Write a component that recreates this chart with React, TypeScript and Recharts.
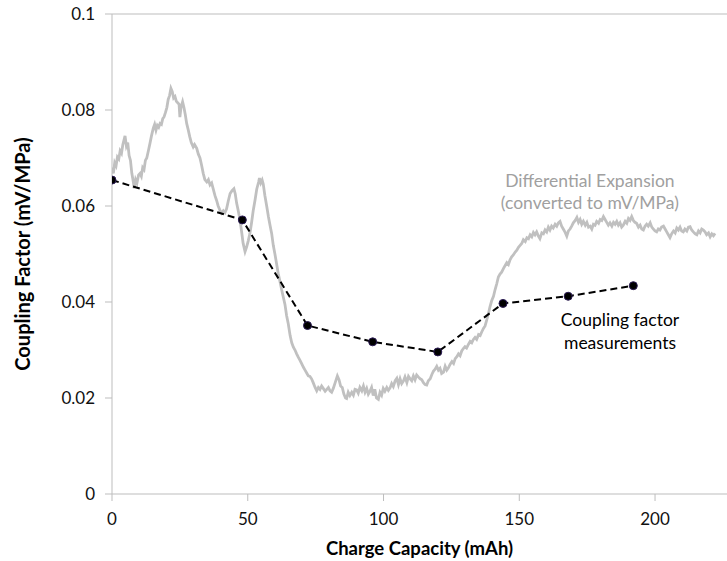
import React from 'react';
import { ComposedChart, Line, XAxis, YAxis, ReferenceLine, ReferenceDot } from 'recharts';

// Coupling factor measurements
const measCapacity = [0, 48, 72, 96, 120, 144, 168, 192];
const measCoupling = [0.0654, 0.0571, 0.0351, 0.0317, 0.0296, 0.0397, 0.0412, 0.0434];

// Differential expansion trace (converted to mV/MPa): [capacity, value]
const diffTrace: [number, number][] = [
  [0, 0.068], [0.5, 0.0668], [1, 0.069], [1.5, 0.0684], [2, 0.0702], [2.5, 0.0698], [3, 0.0715], [3.5, 0.071],
  [4, 0.0728], [4.8, 0.0746], [5.3, 0.0725], [5.8, 0.0732], [6.3, 0.0705], [6.8, 0.0695], [7.3, 0.0668], [7.8, 0.0652],
  [8.2, 0.0637], [8.7, 0.0655], [9.2, 0.0648], [9.8, 0.0665], [10.3, 0.0668], [10.8, 0.0662], [11.3, 0.068], [11.8, 0.0676],
  [12.3, 0.0695], [12.8, 0.07], [13.4, 0.0715], [14, 0.0731], [14.5, 0.0745], [15.2, 0.0762], [15.7, 0.077], [16.2, 0.0758],
  [16.7, 0.0768], [17.2, 0.0764], [17.7, 0.0772], [18.2, 0.077], [18.7, 0.0782], [19.2, 0.0786], [19.7, 0.0795], [20.2, 0.0805],
  [20.7, 0.0822], [21.2, 0.083], [21.7, 0.0845], [22.2, 0.0838], [22.7, 0.0825], [23.2, 0.0828], [23.7, 0.0818], [24.2, 0.0815],
  [24.7, 0.0812], [25, 0.0785], [25.4, 0.0805], [26, 0.0817], [26.5, 0.0805], [27, 0.079], [27.5, 0.0772], [28.1, 0.0758],
  [28.6, 0.0745], [29.2, 0.0732], [29.9, 0.0723], [30.4, 0.0728], [31.2, 0.072], [31.8, 0.0708], [32.4, 0.07], [33, 0.0685],
  [33.6, 0.0668], [34.2, 0.0655], [34.9, 0.065], [35.5, 0.0655], [36.1, 0.0644], [36.7, 0.0648], [37.3, 0.0635], [37.9, 0.0622],
  [38.5, 0.0612], [39.1, 0.06], [39.7, 0.0592], [40.4, 0.0585], [41, 0.059], [41.6, 0.0586], [42.2, 0.0594], [42.8, 0.061],
  [43.5, 0.0626], [44.2, 0.0632], [44.9, 0.0636], [45.4, 0.0625], [45.9, 0.0606], [46.5, 0.059], [47.1, 0.0572], [47.7, 0.0548],
  [48.3, 0.0522], [49, 0.0505], [49.6, 0.0515], [50.2, 0.0528], [50.8, 0.0543], [51.4, 0.0565], [52, 0.059], [52.7, 0.0613],
  [53.3, 0.0635], [54, 0.065], [54.3, 0.0658], [54.8, 0.0648], [55.3, 0.0654], [55.7, 0.0646], [56.3, 0.0622], [57, 0.0599],
  [57.6, 0.0578], [58.2, 0.056], [58.8, 0.0543], [59.4, 0.0518], [60, 0.05], [60.6, 0.048], [61.2, 0.046], [61.9, 0.0442],
  [62.5, 0.0425], [63.1, 0.041], [63.7, 0.0395], [64.3, 0.0372], [64.9, 0.0355], [65.6, 0.033], [66.2, 0.0315], [66.8, 0.0306],
  [67.4, 0.03], [68, 0.0292], [68.6, 0.0285], [69.2, 0.0279], [69.8, 0.0272], [70.5, 0.0264], [71.1, 0.0258], [71.7, 0.0252],
  [72.3, 0.0246], [72.9, 0.0245], [73.5, 0.024], [74.1, 0.0232], [74.8, 0.0222], [75.4, 0.0215], [76, 0.0222], [76.6, 0.0218],
  [77.2, 0.0225], [77.8, 0.022], [78.5, 0.0214], [79.1, 0.0218], [79.7, 0.0222], [80.3, 0.0215], [80.9, 0.0212], [81.5, 0.022],
  [82.2, 0.0232], [83, 0.0246], [83.6, 0.0238], [84.2, 0.0225], [84.8, 0.0222], [85.4, 0.0208], [86, 0.02], [86.4, 0.0199],
  [87, 0.0212], [87.6, 0.0205], [88.3, 0.0212], [88.9, 0.0206], [89.5, 0.0218], [90.1, 0.0217], [90.7, 0.021], [91.3, 0.0222],
  [92, 0.0215], [92.6, 0.0225], [93.2, 0.0212], [93.8, 0.022], [94.4, 0.0208], [95, 0.0214], [95.6, 0.0222], [96.2, 0.0205],
  [96.8, 0.0218], [97.4, 0.02], [98.1, 0.0197], [98.7, 0.0212], [99.3, 0.0206], [99.9, 0.022], [100.5, 0.0214], [101.2, 0.0222],
  [101.8, 0.0216], [102.4, 0.0221], [103, 0.023], [103.6, 0.0224], [104.3, 0.0236], [104.9, 0.0241], [105.5, 0.0228], [106.1, 0.024],
  [106.7, 0.023], [107.3, 0.0235], [107.9, 0.0244], [108.6, 0.0232], [109.2, 0.0245], [109.8, 0.024], [110.4, 0.0236], [111, 0.0246],
  [111.6, 0.0238], [112.2, 0.0248], [112.8, 0.0244], [113.5, 0.024], [114.1, 0.0238], [114.7, 0.0232], [115.3, 0.0228], [115.9, 0.0227],
  [116.5, 0.0236], [117.2, 0.024], [117.8, 0.0249], [118.4, 0.0256], [119, 0.026], [119.6, 0.0266], [120.2, 0.0258], [120.8, 0.0262],
  [121.4, 0.0251], [122.1, 0.0254], [122.7, 0.0266], [123.3, 0.0258], [123.9, 0.0263], [124.5, 0.027], [125.2, 0.0276], [125.8, 0.0272],
  [126.4, 0.0282], [127, 0.0286], [127.6, 0.0292], [128.2, 0.0288], [128.8, 0.0298], [129.4, 0.0303], [130, 0.0307], [130.6, 0.0304],
  [131.3, 0.0312], [131.9, 0.0318], [132.5, 0.0315], [133.1, 0.0322], [133.7, 0.0326], [134.3, 0.0322], [135, 0.0332], [135.6, 0.033],
  [136.2, 0.0338], [136.8, 0.0345], [137.4, 0.035], [138, 0.0362], [138.6, 0.0375], [139.2, 0.039], [139.8, 0.0402], [140.5, 0.0412],
  [141.1, 0.0426], [141.7, 0.0438], [142.3, 0.0452], [142.9, 0.0458], [143.5, 0.0462], [144.2, 0.047], [144.8, 0.0476], [145.4, 0.0482],
  [146, 0.0478], [146.6, 0.0488], [147.2, 0.0494], [147.8, 0.0498], [148.5, 0.0504], [149.1, 0.0508], [149.7, 0.0514], [150.3, 0.0518],
  [150.9, 0.0522], [151.5, 0.053], [152.2, 0.0526], [152.8, 0.0534], [153.4, 0.0532], [154, 0.054], [154.6, 0.0536], [155.2, 0.0545],
  [155.8, 0.054], [156.4, 0.0546], [157, 0.0538], [157.6, 0.0532], [158.3, 0.0544], [158.9, 0.0542], [159.5, 0.055], [160.1, 0.0546],
  [160.7, 0.0556], [161.3, 0.055], [161.9, 0.0558], [162.5, 0.0554], [163.2, 0.0562], [163.8, 0.0558], [164.4, 0.0565], [165, 0.0568],
  [165.6, 0.0558], [166.2, 0.0552], [166.9, 0.0545], [167.5, 0.0537], [168.1, 0.0548], [168.7, 0.0552], [169.3, 0.0558], [169.9, 0.0565],
  [170.6, 0.057], [171.2, 0.0576], [171.8, 0.0566], [172.4, 0.0572], [173, 0.0562], [173.6, 0.0568], [174.3, 0.056], [174.9, 0.0566],
  [175.5, 0.0556], [176.1, 0.0558], [176.7, 0.0552], [177.3, 0.0562], [177.9, 0.056], [178.5, 0.0568], [179.2, 0.0564], [179.8, 0.0572],
  [180.4, 0.057], [181, 0.0578], [181.6, 0.0572], [182.2, 0.0566], [182.8, 0.056], [183.4, 0.0565], [184.1, 0.0558], [184.7, 0.0566],
  [185.3, 0.0562], [185.9, 0.0568], [186.5, 0.056], [187.1, 0.0565], [187.7, 0.0556], [188.3, 0.056], [189, 0.0568], [189.6, 0.0564],
  [190.2, 0.0574], [190.8, 0.057], [191.4, 0.0578], [192, 0.057], [192.6, 0.0566], [193.2, 0.0564], [193.9, 0.0556], [194.5, 0.056],
  [195.1, 0.0552], [195.7, 0.055], [196.3, 0.0558], [196.9, 0.0562], [197.5, 0.0558], [198.2, 0.0565], [198.8, 0.0556], [199.4, 0.0552],
  [200, 0.0548], [200.6, 0.0546], [201.2, 0.0552], [201.8, 0.055], [202.4, 0.0556], [203.1, 0.0558], [203.7, 0.0552], [204.3, 0.0546],
  [204.9, 0.054], [205.5, 0.0534], [206.1, 0.0542], [206.8, 0.0548], [207.4, 0.0544], [208, 0.0554], [208.6, 0.055], [209.2, 0.0556],
  [209.8, 0.0548], [210.4, 0.0546], [211, 0.0552], [211.7, 0.0548], [212.3, 0.0556], [212.9, 0.0557], [213.5, 0.055], [214.1, 0.0546],
  [214.8, 0.0542], [215.4, 0.054], [216, 0.0548], [216.6, 0.0544], [217.2, 0.0552], [217.8, 0.055], [218.4, 0.0546], [219, 0.054],
  [219.7, 0.0544], [220.3, 0.0536], [220.9, 0.0542], [221.5, 0.0538], [222.1, 0.0543],
];

const xTicks = [0, 50, 100, 150, 200];
const yTicks = [0, 0.02, 0.04, 0.06, 0.08, 0.1];

const measData = measCapacity.map((x, i) => ({ x, y: measCoupling[i] }));
const diffData = diffTrace.map(([x, y]) => ({ x, y }));

const FONT = 'Lato, "Open Sans", sans-serif';
const AXIS = '#bdbdbd';

export default function App() {
  return (
    <div style={{ position: 'absolute', left: 0, top: 0, width: 727, height: 561, background: '#fff', fontFamily: FONT }}>
      <ComposedChart width={727} height={561} margin={{ top: 14, right: 0, bottom: 0, left: 0 }}>
        <XAxis
          type="number"
          dataKey="x"
          domain={[0, 226.5]}
          ticks={xTicks}
          allowDataOverflow
          height={67}
          stroke={AXIS}
          tickSize={7}
          tickMargin={12}
          tick={{ fill: '#111', fontSize: 17, fontFamily: FONT }}
          label={{ value: 'Charge Capacity (mAh)', position: 'insideBottom', offset: 6, fill: '#000', fontSize: 18.5, fontWeight: 700, fontFamily: FONT }}
        />
        <YAxis
          type="number"
          dataKey="y"
          domain={[0, 0.1]}
          ticks={yTicks}
          width={112}
          stroke={AXIS}
          tickSize={7}
          tickMargin={10}
          tick={{ fill: '#111', fontSize: 17, fontFamily: FONT }}
          label={{ value: 'Coupling Factor (mV/MPa)', angle: -90, position: 'insideLeft', offset: 23, fill: '#000', fontSize: 20, fontWeight: 700, fontFamily: FONT, style: { textAnchor: 'middle' } }}
        />
        <ReferenceLine y={0.1} stroke={AXIS} strokeWidth={1} />
        <Line
          data={diffData}
          dataKey="y"
          type="linear"
          stroke="#c0c0c0"
          strokeWidth={2.8}
          dot={false}
          isAnimationActive={false}
        />
        <Line
          data={measData}
          dataKey="y"
          type="linear"
          stroke="#000"
          strokeWidth={2}
          strokeDasharray="7 4"
          dot={{ r: 4, fill: '#000', stroke: '#2b1b55', strokeWidth: 1, strokeDasharray: '' }}
          isAnimationActive={false}
        />
        <ReferenceDot x={176} y={0.0652} r={0} fill="none" stroke="none"
          label={{ value: 'Differential Expansion', position: 'center', fill: '#a0a0a0', fontSize: 17.5, fontFamily: FONT }} />
        <ReferenceDot x={176} y={0.06065} r={0} fill="none" stroke="none"
          label={{ value: '(converted to mV/MPa)', position: 'center', fill: '#a0a0a0', fontSize: 17.5, fontFamily: FONT }} />
        <ReferenceDot x={187.1} y={0.03625} r={0} fill="none" stroke="none"
          label={{ value: 'Coupling factor', position: 'center', fill: '#000', fontSize: 17.5, fontFamily: FONT }} />
        <ReferenceDot x={187.1} y={0.03146} r={0} fill="none" stroke="none"
          label={{ value: 'measurements', position: 'center', fill: '#000', fontSize: 17.5, fontFamily: FONT }} />
      </ComposedChart>
    </div>
  );
}
